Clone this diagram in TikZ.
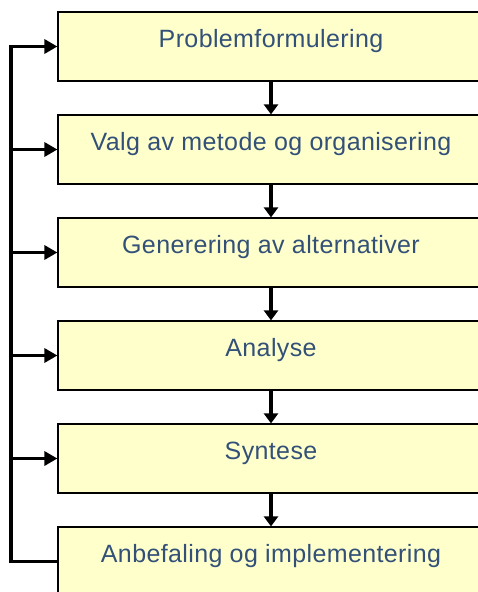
\documentclass[tikz,border=0pt]{standalone}
\usepackage{fontspec}
\setmainfont{Liberation Sans}[LetterSpace=1.5]
\usetikzlibrary{arrows.meta}
\definecolor{boxfill}{RGB}{255,255,204}
\definecolor{txtcol}{RGB}{50,80,120}
\tikzset{
  stepbox/.style={draw=black, line width=1.2pt, fill=boxfill, rectangle,
    minimum width=426pt, minimum height=69pt, inner sep=0pt,
    text height=35pt, text depth=34pt, text=txtcol,
    font=\fontsize{25}{30}\selectfont},
  flow/.style={line width=3.2pt, -{Triangle[length=10pt,width=14pt]}},
  fb/.style={line width=3.2pt, line join=miter},
  fbtip/.style={fb, -{Triangle[length=13pt,width=14pt]}}
}
\begin{document}
\begin{tikzpicture}[x=1pt,y=-1pt]
\useasboundingbox (0,0) rectangle (478,592);
\clip (0,0) rectangle (478,592);
\node[stepbox] (b1) at (271,46.5) {Problemformulering};
\node[stepbox] (b2) at (271,149.5) {Valg av metode og organisering};
\node[stepbox] (b3) at (271,252.5) {Generering av alternativer};
\node[stepbox] (b4) at (271,355.5) {Analyse};
\node[stepbox] (b5) at (271,458.5) {Syntese};
\node[stepbox] (b6) at (271,561.5) {Anbefaling og implementering};
\coordinate (L) at (11,46.5);
\foreach \a/\b in {b1/b2,b2/b3,b3/b4,b4/b5,b5/b6}
  \draw[flow] (\a.south) -- (\b.north);
\draw[fbtip] (b6.west) -| (L) -- (b1.west);
\foreach \i in {b2,b3,b4,b5}
  \draw[fbtip] (\i.west -| L) -- (\i.west);
\end{tikzpicture}
\end{document}
